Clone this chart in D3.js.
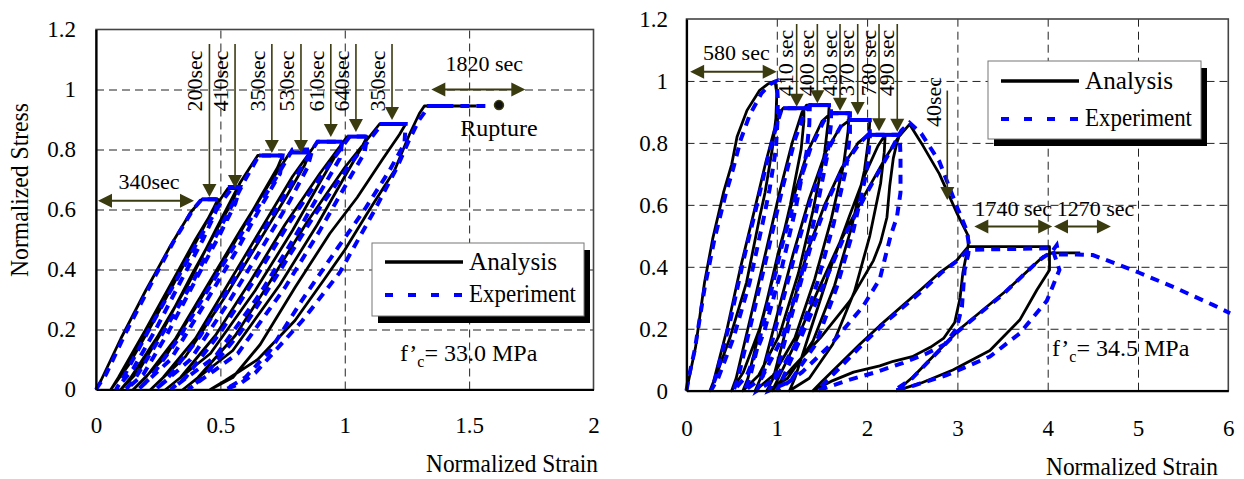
<!DOCTYPE html>
<html>
<head>
<meta charset="utf-8">
<script src="https://cdn.jsdelivr.net/npm/d3@7"></script>
<style>
  body { margin: 0; background: #fff; }
  svg text { font-family: "Liberation Serif", "Times New Roman", serif; fill: #000; }
</style>
</head>
<body>
<svg id="fig" width="1244" height="479"></svg>
<script>
// ---------- tick values and labels ----------
const stressTicks = [0, 0.2, 0.4, 0.6, 0.8, 1, 1.2];
const stressLabels = ["0", "0.2", "0.4", "0.6", "0.8", "1", "1.2"];
const leftStrainTicks = [0, 0.5, 1, 1.5, 2];
const leftStrainLabels = ["0", "0.5", "1", "1.5", "2"];
const rightStrainTicks = [0, 1, 2, 3, 4, 5, 6];
const rightStrainLabels = ["0", "1", "2", "3", "4", "5", "6"];

// ---------- specimen f'c = 33.0 MPa : [normalized strain, normalized stress] ----------
const leftAnalysis = [
  [0,0],[0.02,0.03],[0.1,0.17],[0.2,0.33],[0.3,0.48],[0.38,0.59],[0.425,0.634],[0.49,0.634],
  [0.47,0.6],[0.42,0.52],[0.33,0.38],[0.22,0.21],[0.13,0.08],[0.06,0],
  [0.09,0.04],[0.2,0.2],[0.3,0.35],[0.4,0.5],[0.48,0.61],[0.53,0.67],[0.57,0.67],
  [0.55,0.63],[0.49,0.54],[0.39,0.39],[0.27,0.2],[0.17,0.06],[0.1,0],
  [0.14,0.04],[0.25,0.18],[0.37,0.35],[0.48,0.53],[0.58,0.69],[0.65,0.78],[0.75,0.78],
  [0.73,0.74],[0.66,0.64],[0.55,0.48],[0.42,0.3],[0.28,0.11],[0.15,0],
  [0.2,0.04],[0.32,0.17],[0.45,0.35],[0.58,0.53],[0.7,0.69],[0.78,0.79],[0.86,0.79],
  [0.84,0.75],[0.77,0.65],[0.66,0.5],[0.52,0.31],[0.36,0.11],[0.22,0],
  [0.27,0.04],[0.4,0.17],[0.53,0.35],[0.66,0.53],[0.79,0.71],[0.89,0.826],[0.99,0.826],
  [0.97,0.79],[0.9,0.69],[0.79,0.53],[0.64,0.33],[0.46,0.12],[0.28,0],
  [0.34,0.04],[0.48,0.18],[0.62,0.36],[0.76,0.55],[0.9,0.72],[1.01,0.843],[1.09,0.843],
  [1.07,0.81],[1.0,0.71],[0.89,0.55],[0.74,0.35],[0.55,0.13],[0.35,0],
  [0.41,0.04],[0.56,0.18],[0.7,0.36],[0.85,0.56],[1.0,0.74],[1.14,0.885],[1.245,0.885],
  [1.22,0.85],[1.15,0.765],[1.05,0.64],[0.94,0.52],[0.8,0.34],[0.66,0.15],[0.55,0.04],[0.46,0],
  [0.52,0.03],[0.65,0.1],[0.8,0.23],[0.92,0.37],[1.0,0.465],[1.1,0.6],[1.2,0.73],[1.26,0.85],
  [1.3,0.92],[1.32,0.945],[1.53,0.945]
];
const leftExperiment = [
  [0,0],[0.04,0.05],[0.12,0.19],[0.22,0.35],[0.31,0.49],[0.39,0.6],[0.425,0.634],[0.49,0.634],
  [0.48,0.59],[0.43,0.5],[0.34,0.36],[0.24,0.2],[0.15,0.07],[0.08,0],
  [0.11,0.04],[0.22,0.21],[0.32,0.36],[0.42,0.51],[0.5,0.62],[0.55,0.675],[0.58,0.675],
  [0.56,0.62],[0.5,0.52],[0.41,0.38],[0.29,0.19],[0.19,0.05],[0.12,0],
  [0.16,0.04],[0.27,0.19],[0.39,0.36],[0.5,0.54],[0.6,0.7],[0.655,0.78],[0.75,0.78],
  [0.74,0.72],[0.67,0.62],[0.57,0.47],[0.44,0.29],[0.3,0.1],[0.17,0],
  [0.22,0.04],[0.34,0.18],[0.47,0.36],[0.6,0.54],[0.72,0.7],[0.79,0.8],[0.87,0.8],
  [0.85,0.74],[0.78,0.63],[0.68,0.49],[0.54,0.3],[0.38,0.1],[0.24,0],
  [0.29,0.04],[0.42,0.18],[0.55,0.36],[0.68,0.54],[0.81,0.72],[0.89,0.826],[0.99,0.826],
  [0.98,0.77],[0.91,0.67],[0.8,0.51],[0.66,0.32],[0.48,0.11],[0.3,0],
  [0.36,0.04],[0.5,0.19],[0.64,0.37],[0.78,0.56],[0.92,0.73],[1.02,0.843],[1.09,0.843],
  [1.08,0.79],[1.01,0.69],[0.9,0.53],[0.76,0.34],[0.57,0.12],[0.37,0],
  [0.43,0.04],[0.58,0.19],[0.72,0.37],[0.87,0.57],[1.02,0.75],[1.15,0.885],[1.245,0.885],
  [1.24,0.82],[1.18,0.73],[1.08,0.6],[0.97,0.47],[0.83,0.3],[0.7,0.13],[0.6,0.04],[0.52,0],
  [0.58,0.02],[0.64,0.055],[0.83,0.23],[0.98,0.39],[1.115,0.59],[1.21,0.74],[1.258,0.83],
  [1.3,0.9],[1.34,0.945],[1.59,0.945]
];
// sustained-load holds measured in the test: [start strain, end strain, stress]
const leftHolds = [
  [0.425,0.49,0.634],[0.53,0.58,0.675],[0.655,0.75,0.78],[0.78,0.86,0.79],
  [0.89,0.99,0.826],[1.01,1.09,0.843],[1.14,1.245,0.885],[1.33,1.43,0.945]
];
// hold duration callouts (vertical arrows): strain, stress at tip, text
const leftHoldStrain = [0.456, 0.559, 0.707, 0.824, 0.944, 1.045, 1.19];
const leftHoldTip = [0.642, 0.672, 0.788, 0.788, 0.842, 0.858, 0.898];
const leftHoldText = ["200sec", "410sec", "350sec", "530sec", "610sec", "640sec", "350sec"];
// horizontal duration callouts: [from strain, to strain, stress, text]
const leftSpans = [[0.008, 0.394, 0.629, "340sec"], [1.348, 1.726, 1.0, "1820 sec"]];
const leftRupture = [1.62, 0.948];

// ---------- specimen f'c = 34.5 MPa ----------
const rightAnalysis = [
  [0,0],[0.05,0.07],[0.1,0.14],[0.2,0.35],[0.29,0.49],[0.41,0.64],[0.5,0.73],[0.56,0.82],
  [0.67,0.905],[0.81,0.97],[0.9,0.99],[0.98,1.0],
  [1.0,0.96],[0.99,0.88],[0.95,0.78],[0.87,0.64],[0.81,0.56],[0.665,0.35],[0.48,0.17],[0.33,0.05],[0.26,0],
  [0.3,0.03],[0.45,0.2],[0.6,0.4],[0.75,0.58],[0.88,0.74],[0.98,0.85],[1.04,0.9],[1.07,0.912],[1.3,0.912],
  [1.3,0.87],[1.27,0.78],[1.15,0.6],[0.99,0.4],[0.81,0.2],[0.63,0.06],[0.5,0],
  [0.55,0.04],[0.72,0.25],[0.88,0.45],[1.03,0.64],[1.17,0.8],[1.28,0.9],[1.33,0.922],[1.58,0.922],
  [1.57,0.87],[1.53,0.77],[1.4,0.58],[1.24,0.38],[1.03,0.18],[0.8,0.05],[0.625,0],
  [0.68,0.04],[0.85,0.24],[1.02,0.45],[1.18,0.62],[1.34,0.77],[1.5,0.87],[1.6,0.896],[1.8,0.896],
  [1.79,0.84],[1.74,0.73],[1.6,0.55],[1.42,0.36],[1.2,0.17],[0.96,0.05],[0.76,0],
  [0.82,0.04],[1.0,0.24],[1.18,0.44],[1.36,0.62],[1.54,0.77],[1.7,0.85],[1.81,0.874],[2.03,0.874],
  [2.02,0.82],[1.97,0.71],[1.83,0.53],[1.64,0.34],[1.4,0.16],[1.12,0.04],[0.89,0],
  [0.96,0.04],[1.15,0.25],[1.34,0.45],[1.53,0.6],[1.72,0.72],[1.9,0.8],[2.01,0.826],[2.2,0.826],
  [2.19,0.77],[2.15,0.67],[2.03,0.5],[1.86,0.32],[1.62,0.15],[1.36,0.04],[1.14,0],
  [1.2,0.04],[1.4,0.22],[1.6,0.4],[1.8,0.56],[1.98,0.7],[2.12,0.79],[2.2,0.826],[2.36,0.826],
  [2.33,0.8],[2.29,0.75],[2.25,0.66],[2.22,0.56],[2.15,0.48],[2.07,0.42],[1.81,0.29],[1.48,0.17],[1.18,0.077],[0.95,0],
  [1.0,0.03],[1.2,0.15],[1.45,0.32],[1.7,0.48],[1.95,0.62],[2.2,0.75],[2.35,0.82],[2.47,0.86],
  [2.6,0.8],[2.8,0.7],[3.0,0.57],[3.12,0.5],[3.12,0.47],
  [3.1,0.44],[3.06,0.38],[3.03,0.3],[2.97,0.22],[2.85,0.17],[2.7,0.14],[2.5,0.11],[2.29,0.095],
  [2.14,0.08],[1.85,0.06],[1.6,0.03],[1.4,0],
  [1.5,0.03],[1.92,0.15],[2.14,0.21],[2.59,0.325],[2.8,0.38],[2.99,0.42],[3.12,0.465],[4.02,0.465],
  [4.02,0.39],[3.88,0.325],[3.69,0.228],[3.36,0.13],[2.95,0.067],[2.6,0.025],[2.33,0],
  [2.51,0.045],[3.03,0.2],[3.55,0.325],[3.95,0.433],[4.05,0.445],[4.36,0.445]
];
const rightExperiment = [
  [0,0],[0.03,0.05],[0.09,0.13],[0.2,0.33],[0.31,0.49],[0.43,0.63],[0.52,0.72],[0.6,0.81],
  [0.7,0.89],[0.83,0.96],[0.93,0.99],[1.0,1.0],
  [1.01,0.95],[1.01,0.88],[0.99,0.78],[0.92,0.65],[0.85,0.55],[0.7,0.35],[0.52,0.17],[0.35,0.04],[0.27,0],
  [0.32,0.04],[0.48,0.22],[0.63,0.42],[0.78,0.6],[0.9,0.75],[1.0,0.86],[1.05,0.905],[1.07,0.912],[1.365,0.912],
  [1.36,0.86],[1.33,0.77],[1.21,0.59],[1.05,0.39],[0.86,0.19],[0.67,0.05],[0.52,0],
  [0.57,0.04],[0.75,0.26],[0.91,0.46],[1.06,0.65],[1.2,0.81],[1.31,0.9],[1.365,0.922],[1.6,0.922],
  [1.6,0.86],[1.56,0.76],[1.43,0.57],[1.27,0.37],[1.06,0.17],[0.83,0.04],[0.64,0],
  [0.7,0.04],[0.88,0.25],[1.05,0.46],[1.21,0.63],[1.37,0.78],[1.52,0.87],[1.6,0.896],[1.81,0.896],
  [1.81,0.83],[1.77,0.72],[1.63,0.54],[1.45,0.35],[1.23,0.16],[0.99,0.04],[0.78,0],
  [0.84,0.04],[1.03,0.25],[1.21,0.45],[1.39,0.63],[1.57,0.78],[1.72,0.86],[1.81,0.874],[2.03,0.874],
  [2.03,0.81],[1.99,0.7],[1.85,0.52],[1.66,0.33],[1.43,0.15],[1.15,0.03],[0.91,0],
  [0.98,0.04],[1.18,0.26],[1.37,0.46],[1.56,0.61],[1.75,0.73],[1.92,0.8],[2.01,0.826],[2.36,0.826],
  [2.37,0.76],[2.37,0.64],[2.33,0.56],[2.26,0.5],[2.14,0.36],[1.95,0.27],[1.6,0.15],[1.28,0.06],[1.0,0],
  [1.05,0.03],[1.25,0.16],[1.5,0.33],[1.75,0.5],[2.0,0.64],[2.25,0.77],[2.38,0.84],[2.47,0.865],
  [2.6,0.83],[2.8,0.74],[3.0,0.59],[3.1,0.52],[3.13,0.47],
  [3.12,0.44],[3.08,0.39],[3.05,0.27],[2.99,0.2],[2.86,0.15],[2.66,0.12],[2.4,0.09],[2.1,0.06],
  [1.8,0.035],[1.55,0.01],[1.45,0],
  [1.55,0.03],[1.95,0.15],[2.2,0.22],[2.6,0.32],[2.82,0.38],[3.0,0.42],[3.12,0.455],[4.05,0.46],
  [4.13,0.39],[3.99,0.29],[3.69,0.185],[3.36,0.11],[2.88,0.05],[2.5,0.015],[2.3,0],
  [2.5,0.04],[3.0,0.19],[3.5,0.31],[3.9,0.42],[4.05,0.45],[4.1,0.47],[4.12,0.44],[4.32,0.44],
  [4.5,0.438],[4.8,0.405],[5.02,0.38],[5.43,0.33],[5.83,0.277],[6.02,0.25]
];
const rightHolds = [
  [1.07,1.365,0.912],[1.365,1.6,0.922],[1.6,1.81,0.896],[1.81,2.03,0.874],[2.01,2.36,0.826]
];
const rightHoldStrain = [1.22, 1.449, 1.70, 1.896, 2.132, 2.334];
const rightHoldTip = [0.917, 0.928, 0.904, 0.89, 0.838, 0.836];
const rightHoldText = ["410 sec", "400 sec", "430 sec", "370 sec", "780 sec", "490 sec"];
const rightDropArrow = [2.888, 0.969, 0.616, "40sec"]; // strain, top stress, tip stress, text
const rightSpans = [[0.04, 0.999, 1.03, "580 sec"], [3.187, 4.05, 0.53, "1740 sec"], [4.07, 4.70, 0.53, "1270 sec"]];

// ---------- drawing ----------
const svg = d3.select("#fig");
const ARROW = "#3b3b10";
const BLUE = "#0000ff";

function drawPanel(p) {
  const x = d3.scaleLinear().domain(p.xDomain).range(p.xRange);
  const y = d3.scaleLinear().domain([0, 1.2]).range(p.yRange);
  const [xl, xr] = p.xRange;
  const [yb, yt] = p.yRange;
  const g = svg.append("g");

  // dashed grid
  g.append("g").attr("transform", `translate(0,${yb})`)
    .call(d3.axisBottom(x).tickValues(p.xTicks.slice(1, -1)).tickSize(-(yb - yt)).tickFormat(""))
    .call(a => a.select(".domain").remove())
    .selectAll("line").attr("stroke", "#222").attr("stroke-width", 1).attr("stroke-dasharray", "8,5");
  g.append("g").attr("transform", `translate(${xl},0)`)
    .call(d3.axisLeft(y).tickValues(stressTicks.slice(1, -1)).tickSize(-(xr - xl)).tickFormat(""))
    .call(a => a.select(".domain").remove())
    .selectAll("line").attr("stroke", "#222").attr("stroke-width", 1).attr("stroke-dasharray", "8,5");

  // plot frame
  g.append("rect").attr("x", xl).attr("y", yt).attr("width", xr - xl).attr("height", yb - yt)
    .attr("fill", "none").attr("stroke", "#444").attr("stroke-width", 1.6);

  const line = d3.line().x(d => x(d[0])).y(d => y(d[1]));

  g.append("path").datum(p.analysis).attr("d", line).attr("fill", "none")
    .attr("stroke", "#000").attr("stroke-width", 2.8).attr("stroke-linejoin", "round");
  g.append("path").datum(p.experiment).attr("d", line).attr("fill", "none")
    .attr("stroke", BLUE).attr("stroke-width", 4).attr("stroke-dasharray", "9,7");
  g.selectAll(null).data(p.holds).join("line")
    .attr("x1", d => x(d[0])).attr("x2", d => x(d[1]))
    .attr("y1", d => y(d[2])).attr("y2", d => y(d[2]))
    .attr("stroke", BLUE).attr("stroke-width", 4);

  // axes
  const xa = g.append("g").attr("transform", `translate(0,${yb})`)
    .call(d3.axisBottom(x).tickValues(p.xTicks).tickSize(0).tickPadding(p.xPad)
      .tickFormat((d, i) => p.xLabels[i]));
  const ya = g.append("g").attr("transform", `translate(${xl},0)`)
    .call(d3.axisLeft(y).tickValues(stressTicks).tickSize(0).tickPadding(p.yPad)
      .tickFormat((d, i) => stressLabels[i]));
  [xa, ya].forEach(a => {
    a.select(".domain").attr("stroke", "#000").attr("stroke-width", 2.2);
    a.selectAll("text").attr("font-size", 23).attr("fill", "#000");
  });

  // vertical hold arrows
  p.holdStrain.forEach((s, i) => {
    vArrow(g, x(s), p.arrowTop, y(p.holdTip[i]));
    g.append("text").attr("font-size", 22).attr("text-anchor", "middle").attr("dy", "0.35em")
      .attr("transform", `translate(${x(s) + p.labelDx},${p.labelCy}) rotate(-90)`)
      .text(p.holdText[i]);
  });

  // horizontal duration arrows
  p.spans.forEach((s, i) => {
    const ay = y(s[2]);
    hArrow(g, x(s[0]), x(s[1]), ay);
    g.append("text").attr("font-size", 22).attr("text-anchor", "middle")
      .attr("x", (x(s[0]) + x(s[1])) / 2 + p.spanDx[i]).attr("y", ay - p.spanDy[i])
      .text(s[3]);
  });

  // legend
  const L = p.legend;
  g.append("rect").attr("x", L.x + 6).attr("y", L.y + 7).attr("width", L.w).attr("height", L.h).attr("fill", "#000");
  g.append("rect").attr("x", L.x).attr("y", L.y).attr("width", L.w).attr("height", L.h)
    .attr("fill", "#fff").attr("stroke", "#777").attr("stroke-width", 1);
  g.append("line").attr("x1", L.x + 13).attr("x2", L.x + 91).attr("y1", L.a).attr("y2", L.a)
    .attr("stroke", "#000").attr("stroke-width", 3.5);
  g.append("line").attr("x1", L.x + 13).attr("x2", L.x + 93).attr("y1", L.e).attr("y2", L.e)
    .attr("stroke", BLUE).attr("stroke-width", 4).attr("stroke-dasharray", "8,15");
  g.append("text").attr("x", L.x + 97).attr("y", L.a + 8).attr("font-size", 26)
    .attr("textLength", 88).attr("lengthAdjust", "spacingAndGlyphs").text("Analysis");
  g.append("text").attr("x", L.x + 97).attr("y", L.e + 7).attr("font-size", 26)
    .attr("textLength", 107).attr("lengthAdjust", "spacingAndGlyphs").text("Experiment");

  // concrete strength note
  const f = g.append("text").attr("x", p.fc.x).attr("y", p.fc.y).attr("font-size", 24);
  f.append("tspan").text("f’");
  f.append("tspan").attr("font-size", 16).attr("dy", 6).text("c");
  f.append("tspan").attr("dy", -6).text("= " + p.fc.text);

  // x axis title
  g.append("text").attr("x", p.xTitle.x).attr("y", p.xTitle.y).attr("font-size", 25)
    .attr("textLength", 172).attr("lengthAdjust", "spacingAndGlyphs").text("Normalized Strain");

  return { x, y, g };
}

function vArrow(g, px, top, tip) {
  g.append("line").attr("x1", px).attr("x2", px).attr("y1", top).attr("y2", tip - 10)
    .attr("stroke", ARROW).attr("stroke-width", 1.6);
  g.append("path").attr("d", `M${px - 7},${tip - 13}L${px + 7},${tip - 13}L${px},${tip}Z`).attr("fill", ARROW);
}
function hArrow(g, a, b, yy) {
  g.append("line").attr("x1", a + 10).attr("x2", b - 10).attr("y1", yy).attr("y2", yy)
    .attr("stroke", ARROW).attr("stroke-width", 2);
  g.append("path").attr("d", `M${a},${yy}L${a + 14},${yy - 7}L${a + 14},${yy + 7}Z`).attr("fill", ARROW);
  g.append("path").attr("d", `M${b},${yy}L${b - 14},${yy - 7}L${b - 14},${yy + 7}Z`).attr("fill", ARROW);
}

// left specimen
const left = drawPanel({
  xDomain: [0, 2], xRange: [96, 593.5], yRange: [389.5, 29.5],
  xTicks: leftStrainTicks, xLabels: leftStrainLabels, xPad: 27, yPad: 20,
  analysis: leftAnalysis, experiment: leftExperiment, holds: leftHolds,
  holdStrain: leftHoldStrain, holdTip: leftHoldTip, holdText: leftHoldText,
  arrowTop: 44, labelDx: -15, labelCy: 81,
  spans: leftSpans, spanDx: [3, 6], spanDy: [12, 19],
  legend: { x: 372, y: 243, w: 212, h: 73, a: 262, e: 295 },
  fc: { x: 400, y: 361, text: "33.0 MPa" },
  xTitle: { x: 426, y: 472 }
});
left.g.append("circle").attr("cx", left.x(leftRupture[0])).attr("cy", left.y(leftRupture[1])).attr("r", 4.5)
  .attr("fill", "#111").attr("stroke", ARROW).attr("stroke-width", 1.5);
left.g.append("text").attr("x", 499).attr("y", 136).attr("font-size", 24).attr("text-anchor", "middle").text("Rupture");
left.g.append("text").attr("font-size", 25).attr("text-anchor", "middle").attr("dy", "0.35em")
  .attr("textLength", 174).attr("lengthAdjust", "spacingAndGlyphs")
  .attr("transform", "translate(19,190) rotate(-90)").text("Normalized Stress");

// right specimen
const right = drawPanel({
  xDomain: [0, 6], xRange: [686.5, 1228.3], yRange: [390.7, 19],
  xTicks: rightStrainTicks, xLabels: rightStrainLabels, xPad: 29, yPad: 18.5,
  analysis: rightAnalysis, experiment: rightExperiment, holds: rightHolds,
  holdStrain: rightHoldStrain, holdTip: rightHoldTip, holdText: rightHoldText,
  arrowTop: 24, labelDx: -11, labelCy: 63,
  spans: rightSpans, spanDx: [3, 0, 13], spanDy: [12, 11, 11],
  legend: { x: 988, y: 61, w: 213, h: 78, a: 81, e: 119 },
  fc: { x: 1052, y: 356, text: "34.5 MPa" },
  xTitle: { x: 1046, y: 475 }
});
{
  const [s, top, tip, text] = rightDropArrow;
  const px = right.x(s);
  vArrow(right.g, px, right.y(top), right.y(tip));
  right.g.append("text").attr("font-size", 22).attr("text-anchor", "middle").attr("dy", "0.35em")
    .attr("transform", `translate(${px - 14},102) rotate(-90)`).text(text);
}
</script>
</body>
</html>
